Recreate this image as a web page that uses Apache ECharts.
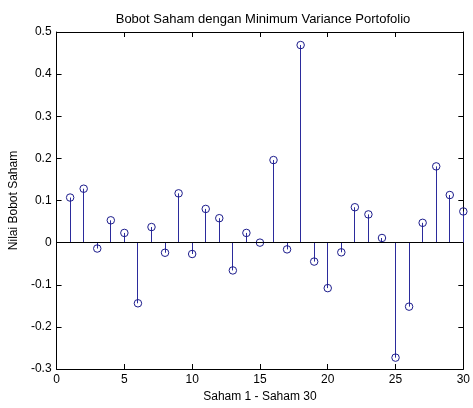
<!DOCTYPE html>
<html><head><meta charset="utf-8">
<script src="https://cdn.jsdelivr.net/npm/echarts@6/dist/echarts.min.js"></script>
<style>html,body{margin:0;padding:0;background:#fff}#c{width:473px;height:408px}</style>
</head><body><div id="c"></div>
<script>
var saham = [1,2,3,4,5,6,7,8,9,10,11,12,13,14,15,16,17,18,19,20,21,22,23,24,25,26,27,28,29,30];
var bobot = [0.107,0.128,-0.014,0.053,0.023,-0.144,0.037,-0.024,0.117,-0.027,0.080,0.058,-0.066,0.023,0.000,0.196,-0.016,0.469,-0.045,-0.108,-0.023,0.084,0.067,0.011,-0.273,-0.152,0.047,0.181,0.113,0.074];
var xTicks = [0,5,10,15,20,25,30];
var yTicks = [-0.3,-0.2,-0.1,0,0.1,0.2,0.3,0.4,0.5];

var pts = saham.map(function(s,i){return [s,bobot[i]];});
var font = 'Liberation Sans, Arial, sans-serif';
var stemColor = '#2b2b9c';
var chart = echarts.init(document.getElementById('c'), null, {renderer:'canvas'});
var axCommon = {
  axisLine:{show:true,onZero:false,lineStyle:{color:'#000',width:1}},
  axisTick:{show:true,inside:true,length:5,lineStyle:{color:'#000'}},
  splitLine:{show:false}
};
chart.setOption({
  animation:false,
  backgroundColor:'#fff',
  title:{text:'Bobot Saham dengan Minimum Variance Portofolio',left:258,top:8,textAlign:'center',
    textStyle:{fontFamily:font,fontSize:13,fontWeight:'normal',color:'#000'}},
  grid:{left:53,right:6,top:32,bottom:35},
  xAxis:[
    Object.assign({type:'value',min:xTicks[0],max:xTicks[xTicks.length-1],interval:5,position:'bottom',
      name:'Saham 1 - Saham 30',nameLocation:'middle',nameGap:22,
      nameTextStyle:{fontFamily:font,fontSize:12,color:'#000'},
      axisLabel:{fontFamily:font,fontSize:12,color:'#000',margin:5}},axCommon),
    Object.assign({type:'value',min:xTicks[0],max:xTicks[xTicks.length-1],interval:5,position:'top',
      axisLabel:{show:false}},axCommon)
  ],
  yAxis:[
    Object.assign({type:'value',min:yTicks[0],max:yTicks[yTicks.length-1],interval:0.1,position:'left',
      name:'Nilai Bobot Saham',nameLocation:'middle',nameGap:34,nameRotate:90,
      nameTextStyle:{fontFamily:font,fontSize:12,color:'#000'},
      axisLabel:{fontFamily:font,fontSize:12,color:'#000',margin:5,
        formatter:function(v){return String(Math.round(v*10)/10);}}},axCommon),
    Object.assign({type:'value',min:yTicks[0],max:yTicks[yTicks.length-1],interval:0.1,position:'right',
      axisLabel:{show:false}},axCommon)
  ],
  series:[
    {type:'custom',xAxisIndex:0,yAxisIndex:0,clip:false,data:pts,z:2,
      renderItem:function(params,api){
        var a=api.coord([api.value(0),0]);
        var b=api.coord([api.value(0),api.value(1)]);
        var x=Math.round(a[0]-0.5)+0.5;
        return {type:'line',shape:{x1:x,y1:a[1],x2:x,y2:b[1]},
          style:{stroke:stemColor,lineWidth:1}};
      },
      markLine:{silent:true,symbol:'none',label:{show:false},
        lineStyle:{color:'#000',width:1,type:'solid'},data:[{yAxis:0}]}
    },
    {type:'scatter',xAxisIndex:0,yAxisIndex:0,clip:false,data:pts,symbol:'circle',symbolSize:7.5,z:3,
      itemStyle:{color:'rgba(255,255,255,0)',borderColor:'#1c1c8c',borderWidth:1,opacity:1}}
  ]
});
</script></body></html>
